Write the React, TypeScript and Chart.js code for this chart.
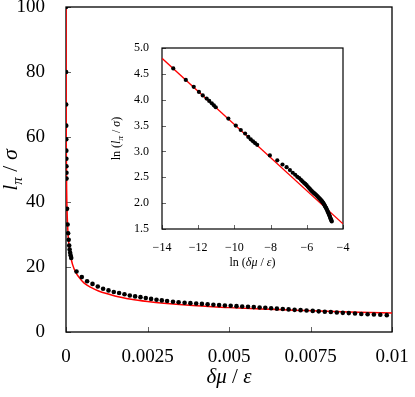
import React, { useEffect, useRef } from 'react';
import { Chart, registerables } from 'chart.js';
Chart.register(...registerables);

const SERIF = '"Liberation Serif", "DejaVu Serif", "Times New Roman", serif';

// Simulation points: δμ/ε and l_π/σ
const deltaMu = [
  1.55e-6, 3.1e-6, 4.8e-6, 6.4e-6, 7.9e-6, 9.8e-6, 1.13e-5, 1.3e-5, 1.46e-5, 1.62e-5,
  3.25e-5, 4.9e-5, 6.45e-5, 8.2e-5, 9.8e-5, 1.12e-4, 1.27e-4, 1.42e-4, 1.6e-4,
  0.000322, 0.000485, 0.000647, 0.000813, 0.000975, 0.001138, 0.001304, 0.001466, 0.001629,
  0.001794, 0.001957, 0.00212, 0.002285, 0.002448, 0.00261, 0.002776, 0.002939, 0.003101,
  0.003282, 0.003454, 0.003638, 0.003816, 0.003994, 0.004169, 0.004344, 0.004521, 0.004696,
  0.004874, 0.005052, 0.00523, 0.005405, 0.005583, 0.005761, 0.005939, 0.006114, 0.006292,
  0.006469, 0.00665, 0.006828, 0.007012, 0.007196, 0.00738, 0.007568, 0.007752, 0.007939,
  0.008123, 0.008307, 0.008491, 0.008675, 0.008865, 0.009058, 0.009252, 0.009445, 0.009641,
  0.00984,
];
const lPi = [
  100, 80, 70, 63.5, 59.3, 55.8, 53.3, 51.0, 49.0, 47.2,
  37.9, 33.1, 30.4, 28.4, 26.6, 25.4, 24.4, 23.6, 22.8,
  18.6, 16.9, 15.6, 14.8, 14.0, 13.3, 12.8, 12.3, 12.0,
  11.6, 11.25, 10.95, 10.72, 10.45, 10.18, 9.94, 9.72, 9.52,
  9.31, 9.16, 9.01, 8.88, 8.76, 8.64, 8.51, 8.39, 8.27,
  8.15, 8.06, 7.96, 7.84, 7.75, 7.66, 7.53, 7.44, 7.32,
  7.19, 7.07, 6.95, 6.82, 6.73, 6.61, 6.49, 6.36, 6.24,
  6.15, 6.02, 5.90, 5.81, 5.69, 5.56, 5.47, 5.38, 5.29,
  5.19,
];

// Red fit curve (main panel)
const fitDeltaMu = [
  1.0e-6, 2e-6, 5e-6, 1e-5, 2e-5, 5e-5, 1e-4, 1.5e-4, 2e-4, 3e-4, 4e-4, 5e-4, 6e-4, 7.5e-4,
  1e-3, 1.5e-3, 2e-3, 2.5e-3, 3e-3, 4e-3, 5e-3, 6e-3, 7e-3, 8e-3, 9e-3, 1e-2,
];
const fitL = [
  114, 91.5, 68, 54.5, 43.5, 32.5, 26, 23, 20.8, 18.3, 16.8, 15.6, 14.7, 13.8,
  12.6, 11.1, 10.1, 9.4, 8.85, 8.05, 7.5, 7.05, 6.7, 6.35, 6.1, 5.85,
];

// Red fit line (inset, log-log)
const insetFitX = [-14, -4];
const insetFitY = [4.8, 1.6];

const mainXTicks = ['0', '0.0025', '0.005', '0.0075', '0.01'];
const mainYTicks = ['0', '20', '40', '60', '80', '100'];
const insetXTicks = ['\u221214', '\u221212', '\u221210', '\u22128', '\u22126', '\u22124'];
const insetYTicks = ['1.5', '2.0', '2.5', '3.0', '3.5', '4.0', '4.5', '5.0'];

type Seg = { t: string; italic?: boolean; size: number; dy?: number };

function drawRich(ctx: CanvasRenderingContext2D, segs: Seg[], cx: number, baseY: number, rotate: boolean) {
  ctx.save();
  ctx.fillStyle = '#000';
  ctx.textBaseline = 'alphabetic';
  ctx.textAlign = 'left';
  const fontOf = (s: Seg) => `${s.italic ? 'italic ' : ''}${s.size}px ${SERIF}`;
  let total = 0;
  const widths = segs.map((s) => {
    ctx.font = fontOf(s);
    const w = ctx.measureText(s.t).width;
    total += w;
    return w;
  });
  if (rotate) {
    ctx.translate(baseY, cx);
    ctx.rotate(-Math.PI / 2);
  } else {
    ctx.translate(cx, baseY);
  }
  let x = -total / 2;
  segs.forEach((s, i) => {
    ctx.font = fontOf(s);
    ctx.fillText(s.t, x, s.dy || 0);
    x += widths[i];
  });
  ctx.restore();
}

function decoPlugin(opts: {
  tickLen: number;
  frameWidth: number;
  titles: (ctx: CanvasRenderingContext2D) => void;
}) {
  return {
    id: 'deco',
    beforeDatasetsDraw(chart: any) {
      const { ctx, chartArea: a, scales } = chart;
      ctx.save();
      ctx.strokeStyle = '#666';
      ctx.lineWidth = 1;
      scales.x.ticks.forEach((t: any) => {
        const px = Math.round(scales.x.getPixelForValue(t.value)) + 0.5;
        ctx.beginPath();
        ctx.moveTo(px, a.bottom);
        ctx.lineTo(px, a.bottom - opts.tickLen);
        ctx.stroke();
      });
      scales.y.ticks.forEach((t: any) => {
        const py = Math.round(scales.y.getPixelForValue(t.value)) + 0.5;
        ctx.beginPath();
        ctx.moveTo(a.left, py);
        ctx.lineTo(a.left + opts.tickLen, py);
        ctx.stroke();
      });
      ctx.strokeStyle = '#000';
      ctx.lineWidth = opts.frameWidth;
      ctx.strokeRect(a.left, a.top, a.right - a.left, a.bottom - a.top);
      ctx.restore();
    },
    afterDraw(chart: any) {
      opts.titles(chart.ctx);
    },
  };
}

function fixAxis(width?: number, height?: number) {
  return (s: any) => {
    if (width !== undefined) s.width = width;
    if (height !== undefined) s.height = height;
    s.paddingTop = 0;
    s.paddingBottom = 0;
    s.paddingLeft = 0;
    s.paddingRight = 0;
  };
}

export default function App() {
  const mainRef = useRef<HTMLCanvasElement>(null);
  const insetRef = useRef<HTMLCanvasElement>(null);

  useEffect(() => {
    document.body.style.margin = '0';
    const dots = deltaMu.map((x, i) => ({ x, y: lPi[i] }));
    const fit = fitDeltaMu.map((x, i) => ({ x, y: fitL[i] }));

    const main = new Chart(mainRef.current!, {
      type: 'scatter',
      data: {
        datasets: [
          {
            data: dots,
            pointRadius: 2.3,
            pointBackgroundColor: '#000',
            pointBorderWidth: 0,
            showLine: false,
          },
          {
            data: fit,
            showLine: true,
            borderColor: '#ff0000',
            borderWidth: 1.5,
            pointRadius: 0,
            cubicInterpolationMode: 'monotone',
          } as any,
        ],
      },
      options: {
        animation: false,
        responsive: false,
        devicePixelRatio: 1,
        events: [],
        layout: { padding: { top: 7, right: 23, left: 0, bottom: 0 } },
        plugins: { legend: { display: false }, tooltip: { enabled: false } },
        scales: {
          x: {
            type: 'linear',
            min: 0,
            max: 0.01,
            afterFit: fixAxis(undefined, 65),
            grid: { display: false },
            border: { display: false },
            ticks: {
              stepSize: 0.0025,
              maxRotation: 0,
              autoSkip: false,
              padding: 6,
              color: '#000',
              font: { family: SERIF, size: 19 },
              callback: (_v: any, i: number) => mainXTicks[i],
            },
          },
          y: {
            type: 'linear',
            min: 0,
            max: 100,
            afterFit: fixAxis(66, undefined),
            grid: { display: false },
            border: { display: false },
            ticks: {
              stepSize: 20,
              autoSkip: false,
              padding: 13,
              color: '#000',
              font: { family: SERIF, size: 19 },
              callback: (_v: any, i: number) => mainYTicks[i],
            },
          },
        },
      },
      plugins: [
        decoPlugin({
          tickLen: 5,
          frameWidth: 1.3,
          titles: (ctx) => {
            drawRich(
              ctx,
              [
                { t: 'δμ', italic: true, size: 21 },
                { t: ' / ', size: 21 },
                { t: 'ε', italic: true, size: 21 },
              ],
              229,
              383,
              false,
            );
            drawRich(
              ctx,
              [
                { t: 'l', italic: true, size: 22 },
                { t: 'π', italic: true, size: 15, dy: 5 },
                { t: ' / ', size: 22 },
                { t: 'σ', italic: true, size: 22 },
              ],
              170,
              17,
              true,
            );
          },
        }) as any,
      ],
    });

    const insetDots = deltaMu.map((x, i) => ({ x: Math.log(x), y: Math.log(lPi[i]) }));
    const insetFit = insetFitX.map((x, i) => ({ x, y: insetFitY[i] }));

    const inset = new Chart(insetRef.current!, {
      type: 'scatter',
      data: {
        datasets: [
          {
            data: insetDots,
            pointRadius: 2.1,
            pointBackgroundColor: '#000',
            pointBorderWidth: 0,
            showLine: false,
          },
          {
            data: insetFit,
            showLine: true,
            borderColor: '#ff0000',
            borderWidth: 1.3,
            pointRadius: 0,
          } as any,
        ],
      },
      options: {
        animation: false,
        responsive: false,
        devicePixelRatio: 1,
        events: [],
        layout: { padding: { top: 48, right: 72, left: 0, bottom: 0 } },
        plugins: { legend: { display: false }, tooltip: { enabled: false } },
        scales: {
          x: {
            type: 'linear',
            min: -14,
            max: -4,
            afterFit: fixAxis(undefined, 168),
            grid: { display: false },
            border: { display: false },
            ticks: {
              stepSize: 2,
              maxRotation: 0,
              autoSkip: false,
              padding: 4,
              color: '#000',
              font: { family: SERIF, size: 12 },
              callback: (_v: any, i: number) => insetXTicks[i],
            },
          },
          y: {
            type: 'linear',
            min: 1.5,
            max: 5.0,
            afterFit: fixAxis(162, undefined),
            grid: { display: false },
            border: { display: false },
            ticks: {
              stepSize: 0.5,
              autoSkip: false,
              padding: 5,
              color: '#000',
              font: { family: SERIF, size: 12 },
              callback: (_v: any, i: number) => insetYTicks[i],
            },
          },
        },
      },
      plugins: [
        decoPlugin({
          tickLen: 4,
          frameWidth: 1.2,
          titles: (ctx) => {
            drawRich(
              ctx,
              [
                { t: 'ln (', size: 12 },
                { t: 'δμ', italic: true, size: 12 },
                { t: ' / ', size: 12 },
                { t: 'ε', italic: true, size: 12 },
                { t: ')', size: 12 },
              ],
              252.5,
              266,
              false,
            );
            drawRich(
              ctx,
              [
                { t: 'ln (', size: 12 },
                { t: 'l', italic: true, size: 12 },
                { t: 'π', italic: true, size: 9, dy: 3 },
                { t: ' / ', size: 12 },
                { t: 'σ', italic: true, size: 12 },
                { t: ')', size: 12 },
              ],
              138.5,
              120,
              true,
            );
          },
        }) as any,
      ],
    });

    return () => {
      main.destroy();
      inset.destroy();
    };
  }, []);

  return (
    <div style={{ position: 'relative', width: 415, height: 397, background: '#fff' }}>
      <canvas ref={mainRef} width={415} height={397} style={{ position: 'absolute', left: 0, top: 0 }} />
      <canvas
        ref={insetRef}
        width={415}
        height={397}
        style={{ position: 'absolute', left: 0, top: 0, pointerEvents: 'none' }}
      />
    </div>
  );
}
